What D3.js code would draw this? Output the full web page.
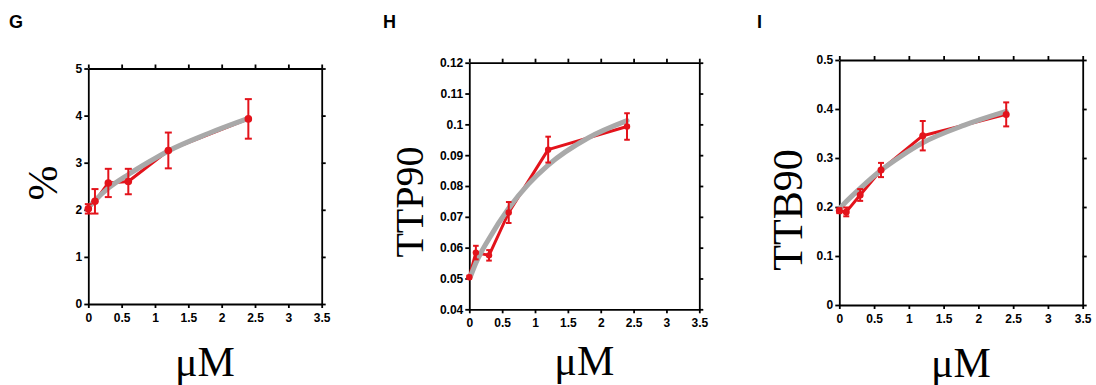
<!DOCTYPE html>
<html>
<head>
<meta charset="utf-8">
<script src="https://cdn.jsdelivr.net/npm/d3@7"></script>
<style>
  body { margin: 0; background: #fff; }
  .tick text { font-family: "Liberation Sans", Arial, sans-serif; font-weight: bold; font-size: 12px; fill: #000; }
  .axis path, .axis line { stroke: #000; stroke-width: 1.8; }
</style>
</head>
<body>
<div id="chart"></div>
<script>
// Doses (µM) shared by all three panels
const doses = [0, 0.1, 0.3, 0.6, 1.2, 2.4];

// Panel G: %
const gMean = [2.02, 2.18, 2.57, 2.60, 3.26, 3.93];
const gErr  = [0.10, 0.26, 0.30, 0.27, 0.38, 0.42];
// Panel H: TTP90
const hMean = [0.0504, 0.0584, 0.0575, 0.0714, 0.0918, 0.0993];
const hErr  = [0.0005, 0.0022, 0.0017, 0.0034, 0.0042, 0.0043];
// Panel I: TTB90
const iMean = [0.1925, 0.190, 0.2245, 0.2755, 0.3455, 0.389];
const iErr  = [0.005, 0.009, 0.012, 0.0145, 0.030, 0.0245];

// Gray fitted curves
const fitX = [0.02, 0.1, 0.3, 0.6, 0.9, 1.2, 1.8, 2.4];
const gFit = [2.08, 2.20, 2.46, 2.75, 3.01, 3.25, 3.62, 3.94];
const hFit = [0.0507, 0.0550, 0.0629, 0.0728, 0.0806, 0.0868, 0.0955, 0.1012];
const iFit = [0.199, 0.211, 0.238, 0.275, 0.305, 0.331, 0.367, 0.395];

// Tick values
const xTicks  = [0, 0.5, 1, 1.5, 2, 2.5, 3, 3.5];
const gYTicks = [0, 1, 2, 3, 4, 5];
const hYTicks = [0.04, 0.05, 0.06, 0.07, 0.08, 0.09, 0.1, 0.11, 0.12];
const iYTicks = [0, 0.1, 0.2, 0.3, 0.4, 0.5];

const letters = ["G", "H", "I"];
const yTitles = ["%", "TTP90", "TTB90"];
const xTitle = "μM";

const W = 1096, H = 385;
const red = "#e3131b", gray = "#a9a9a9";

const svg = d3.select("#chart").append("svg")
    .attr("width", W)
    .attr("height", H);

// layout of each panel (pixel boxes)
const panels = [
  {mean: gMean, err: gErr, fit: gFit, yTicks: gYTicks, box: [88.3, 321.7, 68.5, 304],
   letterX: 9, titleX: 57, titleY: 183, titleSize: 42, r: 3.8, cap: 3.5, xLabY: 376},
  {mean: hMean, err: hErr, fit: hFit, yTicks: hYTicks, box: [469.3, 699.3, 62.7, 309.3],
   letterX: 383, titleX: 423, titleY: 202, titleSize: 40, r: 3.2, cap: 2.8, xLabY: 375},
  {mean: iMean, err: iErr, fit: iFit, yTicks: iYTicks, box: [839.3, 1082.7, 60, 305],
   letterX: 757, titleX: 802, titleY: 210, titleSize: 42, r: 3.5, cap: 3, xLabY: 377}
];

const fmt = v => String(+v.toFixed(2));

panels.forEach((p, k) => {
  const [x0, x1, y0, y1] = p.box;
  const x = d3.scaleLinear().domain([0, 3.5]).range([x0, x1]);
  const y = d3.scaleLinear().domain(d3.extent(p.yTicks)).range([y1, y0]);

  // panel letter
  svg.append("text")
      .attr("x", p.letterX).attr("y", 28)
      .style("font-family", "Liberation Sans, Arial, sans-serif")
      .style("font-weight", "bold")
      .style("font-size", "18px")
      .text(letters[k]);

  // axes on all four sides, ticks outward
  svg.append("g").attr("class", "axis")
      .attr("transform", `translate(0,${y1})`)
      .call(d3.axisBottom(x).tickValues(xTicks).tickFormat(fmt).tickSizeInner(4).tickSizeOuter(0).tickPadding(5));
  svg.append("g").attr("class", "axis")
      .attr("transform", `translate(0,${y0})`)
      .call(d3.axisTop(x).tickValues(xTicks).tickFormat("").tickSizeInner(4).tickSizeOuter(0));
  svg.append("g").attr("class", "axis")
      .attr("transform", `translate(${x0},0)`)
      .call(d3.axisLeft(y).tickValues(p.yTicks).tickFormat(fmt).tickSizeInner(4).tickSizeOuter(0).tickPadding(2));
  svg.append("g").attr("class", "axis")
      .attr("transform", `translate(${x1},0)`)
      .call(d3.axisRight(y).tickValues(p.yTicks).tickFormat("").tickSizeInner(4).tickSizeOuter(0));

  // axis titles
  svg.append("text")
      .attr("transform", `translate(${p.titleX},${p.titleY}) rotate(-90)`)
      .attr("text-anchor", "middle")
      .style("font-family", "Liberation Serif, Times New Roman, serif")
      .style("font-size", p.titleSize + "px")
      .text(yTitles[k]);
  svg.append("text")
      .attr("x", (x0 + x1) / 2).attr("y", p.xLabY)
      .attr("text-anchor", "middle")
      .style("font-family", "Liberation Serif, Times New Roman, serif")
      .style("font-size", "42px")
      .text(xTitle);

  const pts = doses.map((d, i) => ({x: d, y: p.mean[i], e: p.err[i]}));

  // red connecting line
  svg.append("path")
      .datum(pts)
      .attr("fill", "none")
      .attr("stroke", red)
      .attr("stroke-width", 3)
      .attr("stroke-linejoin", "round")
      .attr("d", d3.line().x(d => x(d.x)).y(d => y(d.y)));

  // gray fit
  svg.append("path")
      .datum(fitX.map((d, i) => [d, p.fit[i]]))
      .attr("fill", "none")
      .attr("stroke", gray)
      .attr("stroke-width", 5)
      .attr("stroke-linecap", "round")
      .attr("d", d3.line().x(d => x(d[0])).y(d => y(d[1])).curve(d3.curveMonotoneX));

  // error bars
  const eb = svg.append("g")
      .attr("stroke", red)
      .attr("stroke-width", 2)
    .selectAll("g")
    .data(pts)
    .join("g");
  eb.append("line")
      .attr("x1", d => x(d.x)).attr("x2", d => x(d.x))
      .attr("y1", d => y(d.y - d.e)).attr("y2", d => y(d.y + d.e));
  eb.append("line")
      .attr("x1", d => x(d.x) - p.cap).attr("x2", d => x(d.x) + p.cap)
      .attr("y1", d => y(d.y + d.e)).attr("y2", d => y(d.y + d.e));
  eb.append("line")
      .attr("x1", d => x(d.x) - p.cap).attr("x2", d => x(d.x) + p.cap)
      .attr("y1", d => y(d.y - d.e)).attr("y2", d => y(d.y - d.e));

  // points
  svg.append("g")
    .selectAll("circle")
    .data(pts)
    .join("circle")
      .attr("cx", d => x(d.x))
      .attr("cy", d => y(d.y))
      .attr("r", p.r)
      .attr("fill", red);
});
</script>
</body>
</html>
